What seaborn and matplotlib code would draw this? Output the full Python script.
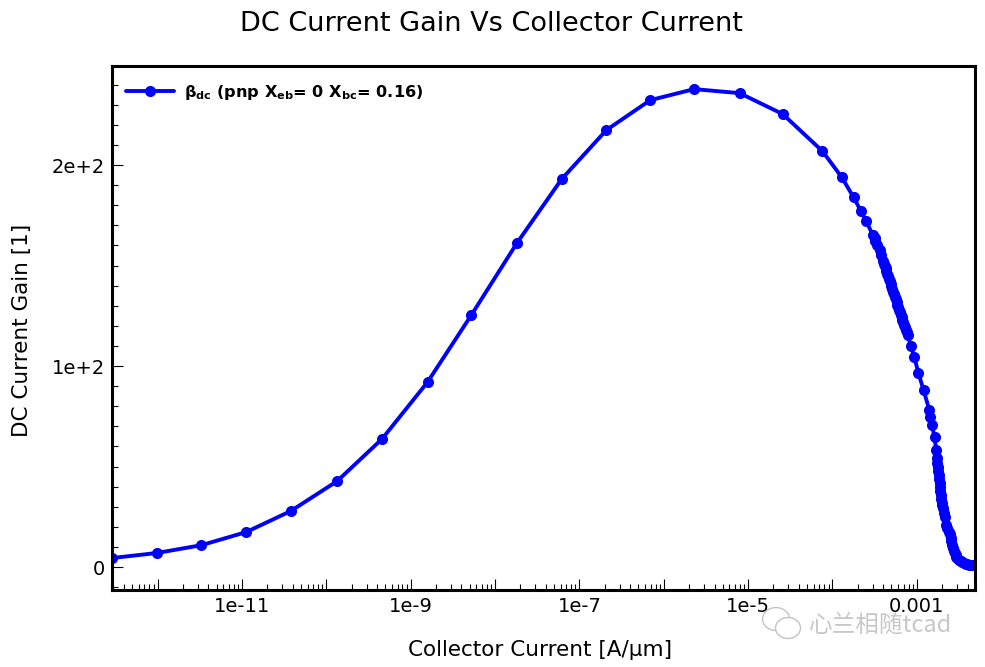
import matplotlib
matplotlib.use("Agg")
import matplotlib.pyplot as plt
import matplotlib.ticker as mticker
from matplotlib.patches import Ellipse
import numpy as np
import pandas as pd
import seaborn as sns

log_current = [-12.54, -12.01, -11.48, -10.95, -10.42, -9.87, -9.34, -8.80, -8.28, -7.74,
               -7.21, -6.68, -6.16, -5.64, -5.10, -4.59, -4.12, -3.89, -3.75, -3.66, -3.60,
               -3.52, -3.50, -3.49, -3.47, -3.44, -3.42,
               -3.40, -3.39, -3.38, -3.37, -3.36, -3.35, -3.34, -3.33, -3.32, -3.31,
               -3.30, -3.29, -3.28, -3.27, -3.26, -3.25, -3.24, -3.23, -3.22, -3.21,
               -3.20, -3.19, -3.18, -3.17, -3.16, -3.15, -3.14, -3.13, -3.12, -3.11,
               -3.07, -3.03, -2.98, -2.92, -2.85, -2.84, -2.82, -2.79, -2.77, -2.76,
               -2.755, -2.75, -2.745, -2.74, -2.735, -2.73, -2.725, -2.72, -2.715, -2.71,
               -2.705, -2.70, -2.69, -2.68, -2.67, -2.65, -2.64, -2.62, -2.61, -2.60,
               -2.59, -2.58, -2.57, -2.56, -2.55, -2.54, -2.53, -2.52, -2.50, -2.48,
               -2.46, -2.44, -2.42, -2.40, -2.38, -2.36, -2.34, -2.32, -2.31]
gain = [4.5, 7.0, 10.9, 17.4, 27.9, 42.8, 63.7, 92.0, 125.4, 161.2,
        193.0, 217.4, 232.3, 237.8, 235.8, 225.4, 207.0, 194.0, 184.0, 177.0, 172.0,
        165.2, 163.7, 162.2, 160.2, 157.7, 155.2,
        152.2, 151.0, 149.7, 148.6, 147.2, 145.8, 144.6, 143.4, 142.2, 141.0,
        139.8, 138.4, 137.0, 135.8, 134.6, 133.4, 132.0, 130.6, 129.2, 127.9,
        126.8, 125.6, 124.4, 123.1, 121.9, 120.6, 119.2, 118.0, 116.9, 115.7,
        110.0, 104.5, 96.5, 88.0, 78.0, 74.6, 70.6, 64.7, 58.2, 54.2,
        52.0, 50.0, 48.0, 46.0, 44.0, 42.0, 40.0, 38.0, 36.0, 34.0,
        32.0, 31.0, 29.4, 27.0, 24.9, 20.9, 19.5, 17.5, 16.4, 14.5,
        12.9, 10.8, 9.5, 8.0, 7.0, 6.0, 5.2, 4.5, 3.6, 3.0,
        2.4, 2.0, 1.6, 1.3, 1.1, 1.0, 0.9, 0.8, 0.8]
x_major_exponents = list(range(-12, -2))
x_label_map = {-11: "1e-11", -9: "1e-9", -7: "1e-7", -5: "1e-5", -3: "0.001"}
y_major = [0, 100, 200]
y_labels = ["0", "1e+2", "2e+2"]

W, H = 985, 667
sns.set_style("white")
fig = plt.figure(figsize=(W / 100, H / 100), dpi=100)
ax = fig.add_axes([112 / W, 1 - 590 / H, (975 - 112) / W, (590 - 66) / H])

df = pd.DataFrame({"current": 10.0 ** np.array(log_current), "gain": gain})
sns.lineplot(data=df, x="current", y="gain", ax=ax, sort=False, errorbar=None,
             color="#0000ff", linewidth=2.8, marker="o", markersize=8,
             markeredgecolor="#0000ff", markeredgewidth=0,
             label=r"β$_{\mathbf{dc}}$ (pnp X$_{\mathbf{eb}}$= 0 X$_{\mathbf{bc}}$= 0.16)")

ax.set_xscale("log")
ax.set_xlim(10 ** -12.54, 10 ** -2.31)
ax.set_ylim(-11.4, 249.3)

ax.xaxis.set_major_locator(mticker.FixedLocator([10.0 ** e for e in x_major_exponents]))
ax.xaxis.set_major_formatter(mticker.FixedFormatter([x_label_map.get(e, "") for e in x_major_exponents]))
ax.xaxis.set_minor_locator(mticker.LogLocator(base=10, subs=np.arange(2, 10), numticks=30))
ax.xaxis.set_minor_formatter(mticker.NullFormatter())
ax.yaxis.set_major_locator(mticker.FixedLocator(y_major))
ax.yaxis.set_major_formatter(mticker.FixedFormatter(y_labels))
ax.yaxis.set_minor_locator(mticker.MultipleLocator(10))

ax.tick_params(axis="both", which="major", direction="in", length=8, width=0.8, labelsize=14,
               bottom=True, left=True, color="black", labelcolor="black", pad=5)
ax.tick_params(axis="both", which="minor", direction="in", length=4, width=0.8,
               bottom=True, left=True, color="black")
for s in ax.spines.values():
    s.set_linewidth(2.2)
    s.set_color("black")

ax.set_xlabel("Collector Current [A/µm]", fontsize=15.5, color="black", labelpad=17, x=0.496)
ax.set_ylabel("DC Current Gain [1]", fontsize=15.5, color="black", labelpad=14, y=0.496)
fig.text(491 / W, 1 - 24 / H, "DC Current Gain Vs Collector Current", fontsize=19.5,
         ha="center", va="center", color="black")

leg = ax.legend(loc="upper left", bbox_to_anchor=(-0.0058, 1.0038), frameon=False,
                prop={"weight": "bold", "size": 11.6},
                handlelength=3, borderaxespad=0.4, borderpad=0.75, handletextpad=0.65,
                labelcolor="black")

# watermark
for cx, cy, w, h in [(776, 619, 27, 23), (788, 628, 25, 21)]:
    fig.add_artist(Ellipse((cx / W, 1 - cy / H), w / W, h / H, transform=fig.transFigure,
                           fc="white", ec="#c4c4c4", lw=1))
fig.text(809 / W, 1 - 625 / H, "心兰相随tcad", fontsize=17, color="#c8c8c8",
         family=["Noto Sans CJK SC", "DejaVu Sans"], ha="left", va="center")

fig.savefig("out.png", dpi=100)
